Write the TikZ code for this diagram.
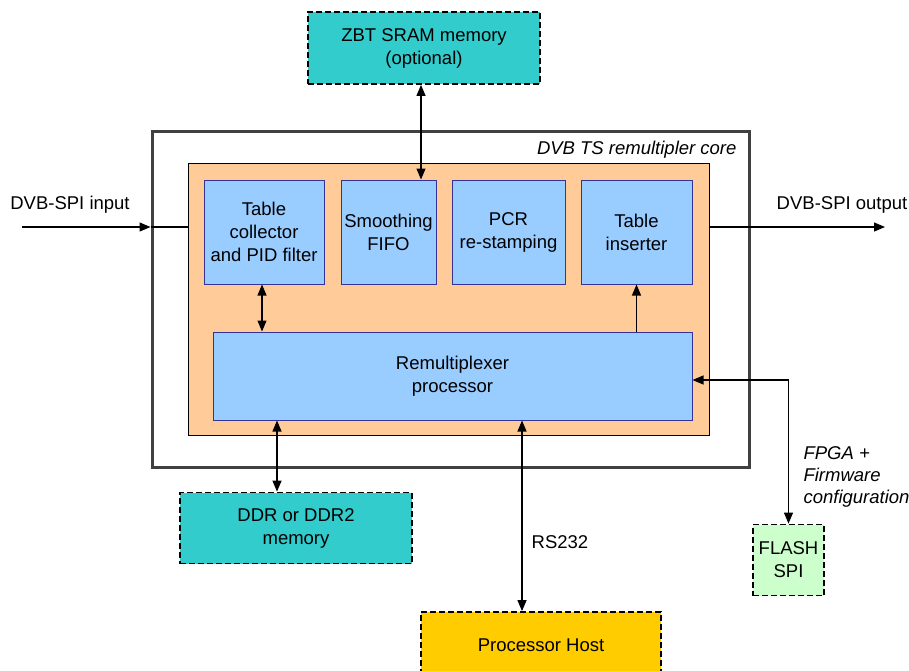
\documentclass[tikz,border=0pt]{standalone}
\usepackage{fontspec}
\setmainfont{Liberation Sans}
\usetikzlibrary{arrows.meta,calc}
\definecolor{teal1}{HTML}{33CCCC}
\definecolor{orng}{HTML}{FFCC99}
\definecolor{blu}{HTML}{99CCFF}
\definecolor{bluedge}{HTML}{333399}
\definecolor{hostc}{HTML}{FFCC00}
\definecolor{flashc}{HTML}{CCFFCC}
\definecolor{outerc}{HTML}{404040}
\tikzset{
  txt/.style={font=\fontsize{18.5}{23}\selectfont, align=center, text=black},
  blk/.style={txt, draw=bluedge, line width=1pt, fill=blu, inner sep=0pt},
  ext/.style={txt, draw=black, line width=1.8pt, dash pattern=on 6pt off 3pt, inner sep=0pt},
  arr/.style={line width=1.2pt, -{Triangle[width=9pt,length=11pt]}},
  darr/.style={line width=1.2pt, {Triangle[width=9pt,length=11pt]}-{Triangle[width=9pt,length=11pt]}},
}
\begin{document}
\begin{tikzpicture}[x=1pt,y=-1pt]
\useasboundingbox (0,0) rectangle (909,670);
% outer core box
\node[draw=outerc, line width=3pt, minimum width=597pt, minimum height=336pt, inner sep=0pt] (outer) at (450.5,299) {};
\node[txt, font=\fontsize{18.5}{23}\selectfont\itshape, anchor=east] (corelbl) at (740,150) {DVB TS remultipler core};
% orange box
\node[draw=black, line width=1pt, fill=orng, minimum width=521pt, minimum height=272pt, inner sep=0pt] (orange) at (448.5,299) {};
% blocks
\node[blk, minimum width=120pt, minimum height=104pt] (b1) at (264,232) {Table\\collector\\and PID filter};
\node[blk, minimum width=95pt, minimum height=104pt] (b2) at (388.5,232) {Smoothing\\FIFO};
\node[blk, minimum width=113pt, minimum height=104pt] (b3) at (508.5,232) {PCR\\re-stamping};
\node[blk, minimum width=111pt, minimum height=104pt] (b4) at (636.5,232) {Table\\inserter};
\node[blk, minimum width=479pt, minimum height=88pt] (remux) at (452.5,376) {Remultiplexer\\processor};
% external
\node[ext, fill=teal1, minimum width=232pt, minimum height=72pt] (zbt) at (424,48) {ZBT SRAM memory\\(optional)};
\node[ext, fill=teal1, minimum width=232pt, minimum height=71pt] (ddr) at (296,528) {DDR or DDR2\\memory};
\node[ext, fill=hostc, minimum width=240pt, minimum height=66pt] (host) at (541,645) {Processor Host};
\node[ext, fill=flashc, minimum width=71pt, minimum height=71pt] (flash) at (788.5,560) {FLASH\\SPI};
% coordinates
\coordinate (cz) at (421,0);
\coordinate (c1) at (262,0);
\coordinate (cd) at (277,0);
\coordinate (cr) at (522,0);
\coordinate (in) at (22,227);
\coordinate (out) at (885,227);
% connectors
\draw[darr] (zbt.south -| cz) -- (b2.north -| cz);
\draw[darr] (b1.south -| c1) -- (remux.north -| c1);
\draw[arr] (remux.north -| b4) -- (b4.south);
\draw[darr] (remux.south -| cd) -- (ddr.north -| cd);
\draw[darr] (remux.south -| cr) -- (host.north -| cr);
\draw[darr] ([yshift=-4pt]remux.east) -| (flash.north);
\draw[arr] (in) -- (outer.west |- in);
\draw[line width=1.2pt] (outer.west |- in) -- (orange.west |- in);
\draw[arr] (orange.east |- out) -- (out);
% labels
\node[txt] (inlbl) at (70,205) {DVB-SPI input};
\node[txt] (outlbl) at (842,205) {DVB-SPI output};
\node[txt] (rslbl) at (560,542) {RS232};
\node[txt, font=\fontsize{18.5}{22}\selectfont\itshape, align=left, anchor=west] (fpga) at (800,477) {FPGA +\\Firmware\\configuration};
\end{tikzpicture}
\end{document}
